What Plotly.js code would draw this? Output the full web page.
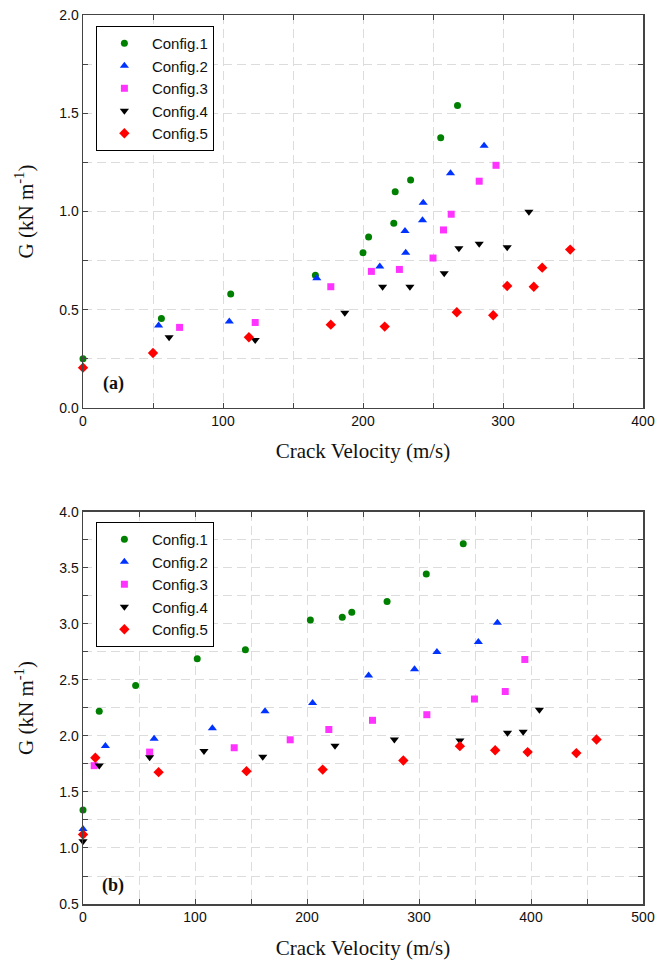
<!DOCTYPE html>
<html>
<head>
<meta charset="utf-8">
<script src="https://cdn.plot.ly/plotly-3.0.1.min.js"></script>
<style>html,body{margin:0;padding:0;background:#fff;}#chart{width:658px;height:968px;}</style>
</head>
<body>
<div id="chart"></div>
<script>
// ---- Data (a) ----
const namesCfg = ["Config.1", "Config.2", "Config.3", "Config.4", "Config.5"];

const a1x = [0, 56, 105.5, 166, 200, 204, 222, 223, 234, 255.5, 267.5];
const a1y = [0.25, 0.455, 0.58, 0.675, 0.79, 0.87, 0.94, 1.10, 1.16, 1.375, 1.54];
const a2x = [54, 104.5, 167, 212, 230.5, 230, 242.5, 243, 262.5, 286.5];
const a2y = [0.42, 0.44, 0.66, 0.72, 0.79, 0.90, 0.955, 1.045, 1.195, 1.335];
const a3x = [69, 123, 177, 206, 226, 250, 257.5, 263, 283, 295];
const a3y = [0.41, 0.435, 0.617, 0.695, 0.705, 0.763, 0.906, 0.986, 1.154, 1.235];
const a4x = [61.5, 123, 187, 214, 233.5, 258, 268.5, 283, 303, 318.5];
const a4y = [0.36, 0.346, 0.485, 0.617, 0.617, 0.685, 0.813, 0.836, 0.818, 0.999];
const a5x = [0, 50, 118.5, 177, 215.5, 267, 293, 303, 322, 328, 348];
const a5y = [0.205, 0.28, 0.36, 0.424, 0.414, 0.487, 0.472, 0.621, 0.617, 0.714, 0.806];

// ---- Data (b) ----
const b1x = [0, 14.5, 47, 102, 145, 203, 231.5, 240, 271.5, 306.5, 339.5];
const b1y = [1.34, 2.22, 2.45, 2.69, 2.77, 3.035, 3.06, 3.105, 3.20, 3.445, 3.715];
const b2x = [0, 20, 63.5, 115.5, 162.5, 205, 255, 296, 316, 353, 370];
const b2y = [1.17, 1.91, 1.975, 2.07, 2.22, 2.295, 2.54, 2.595, 2.75, 2.84, 3.01];
const b3x = [10, 59.5, 135, 185, 219.5, 258.5, 307, 349.5, 377, 394.5];
const b3y = [1.735, 1.856, 1.895, 1.966, 2.058, 2.14, 2.19, 2.33, 2.397, 2.683];
const b4x = [0, 14.5, 59.5, 108, 160.5, 225, 278, 336.5, 379, 393, 407.5];
const b4y = [1.06, 1.736, 1.81, 1.865, 1.815, 1.912, 1.968, 1.96, 2.028, 2.037, 2.235];
const b5x = [0, 11, 67.5, 146, 214, 286, 336.5, 368, 397, 440.5, 458.5];
const b5y = [1.12, 1.805, 1.677, 1.686, 1.70, 1.781, 1.909, 1.873, 1.856, 1.847, 1.968];

const xTitle = "Crack Velocity (m/s)";
const yTitle = "G (kN m<sup>-1</sup>)";

// ---- Styles ----
const colors = ["#008000", "#0033ff", "#ff33ff", "#000000", "#ff0000"];
const symbols = ["circle", "triangle-up", "square", "triangle-down", "diamond"];
const sizes = [7, 8, 7, 8, 8];

const aX = [a1x, a2x, a3x, a4x, a5x], aY = [a1y, a2y, a3y, a4y, a5y];
const bX = [b1x, b2x, b3x, b4x, b5x], bY = [b1y, b2y, b3y, b4y, b5y];

const traces = [];
for (let i = 0; i < 5; i++) {
  traces.push({
    x: aX[i], y: aY[i], type: "scatter", mode: "markers", name: namesCfg[i],
    xaxis: "x", yaxis: "y", legend: "legend", cliponaxis: false,
    marker: {color: colors[i], symbol: symbols[i], size: sizes[i], line: {width: 0}}
  });
}
for (let i = 0; i < 5; i++) {
  traces.push({
    x: bX[i], y: bY[i], type: "scatter", mode: "markers", name: namesCfg[i],
    xaxis: "x2", yaxis: "y2", legend: "legend2", cliponaxis: false,
    marker: {color: colors[i], symbol: symbols[i], size: sizes[i], line: {width: 0}}
  });
}

const sans = "Liberation Sans, Arial, sans-serif";
const serif = "Liberation Serif, Times New Roman, serif";
const gridCol = "#dcdcdc";
const dashPat = "9px,5px";

function xax(range, anchor, standoff) {
  return {
    anchor: anchor, domain: [0, 1], range: range, dtick: 100, tick0: 0,
    showline: true, linecolor: "#444", linewidth: 1.5, mirror: "ticks",
    ticks: "inside", ticklen: 5, tickcolor: "#444", tickwidth: 1,
    showgrid: true, gridcolor: gridCol, gridwidth: 1, griddash: dashPat,
    zeroline: false,
    minor: {dtick: 50, tick0: 0, ticks: "inside", ticklen: 5, tickcolor: "#444", showgrid: true, gridcolor: gridCol, griddash: dashPat},
    tickfont: {family: sans, size: 14, color: "#111"},
    title: {text: xTitle, font: {family: serif, size: 21, color: "#111"}, standoff: standoff},
    automargin: false
  };
}
function yax(range, domain, anchor) {
  return {
    anchor: anchor, domain: domain, range: range, dtick: 0.5, tick0: 0, tickformat: ".1f",
    showline: true, linecolor: "#444", linewidth: 1.5, mirror: "ticks",
    ticks: "inside", ticklen: 5, tickcolor: "#444", tickwidth: 1,
    showgrid: true, gridcolor: gridCol, gridwidth: 1, griddash: dashPat,
    zeroline: false,
    minor: {dtick: 0.25, tick0: 0, ticks: "inside", ticklen: 5, tickcolor: "#444", showgrid: true, gridcolor: gridCol, griddash: dashPat},
    tickfont: {family: sans, size: 14, color: "#111"},
    title: {text: yTitle, font: {family: serif, size: 21, color: "#111"}, standoff: 20},
    automargin: false
  };
}

const legendStyle = {
  bgcolor: "#fff", bordercolor: "#000", borderwidth: 1,
  font: {family: sans, size: 15, color: "#111"},
  xanchor: "left", yanchor: "top", tracegroupgap: 0, itemwidth: 45
};

const layout = {
  width: 658, height: 968,
  margin: {l: 83, r: 15, t: 15, b: 64},
  paper_bgcolor: "#fff", plot_bgcolor: "#fff",
  showlegend: true,
  xaxis: xax([0, 400], "y", 15),
  yaxis: yax([0, 2], [0.558, 1], "x"),
  xaxis2: xax([0, 500], "y2", 16),
  yaxis2: yax([0.5, 4], [0, 0.441], "x2"),
  legend: Object.assign({x: 0.023, y: 0.9876}, legendStyle),
  legend2: Object.assign({x: 0.023, y: 0.4297}, legendStyle),
  annotations: [
    {text: "<b>(a)</b>", xref: "x domain", yref: "y domain", x: 0.054, y: 0.061,
     xanchor: "center", yanchor: "middle", showarrow: false,
     font: {family: serif, size: 18, color: "#111"}},
    {text: "<b>(b)</b>", xref: "x2 domain", yref: "y2 domain", x: 0.054, y: 0.048,
     xanchor: "center", yanchor: "middle", showarrow: false,
     font: {family: serif, size: 18, color: "#111"}}
  ]
};

Plotly.newPlot("chart", traces, layout, {displayModeBar: false, staticPlot: true});
</script>
</body>
</html>
